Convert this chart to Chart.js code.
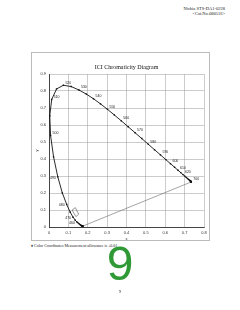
<!DOCTYPE html>
<html>
<head>
<meta charset="utf-8">
<script src="https://cdn.jsdelivr.net/npm/chart.js@4"></script>
<style>
    body { margin: 0; width: 240px; height: 310px; background: #fff; position: relative; overflow: hidden; }
    .hdr { position: absolute; right: 15px; top: 6px; font: 4.5px "Liberation Serif"; text-align: right; line-height: 5px; color: #222; }
    #box { position: absolute; left: 31px; top: 52px; width: 177px; height: 187px; border: 1px solid #bbb; }
    #box canvas { position: absolute; left: 0; top: 0; }
    .note { position: absolute; left: 31px; top: 243px; font: 4px "Liberation Serif"; color: #222; white-space: nowrap; }
    .big { position: absolute; left: 0; width: 240px; top: 238px; text-align: center; font: 48px "Liberation Sans"; color: #2f9a35; line-height: 52px; }
    .pg { position: absolute; left: 0; width: 240px; top: 289px; text-align: center; font: 4px "Liberation Serif"; color: #222; }
</style>
</head>
<body>
<div class="hdr">Nichia STS-DA1-0228<br>&lt;Cat.No.080516&gt;</div>
<div id="box"><canvas id="cie" width="178" height="188"></canvas></div>
<div class="note">&#9830; Color Coordinates Measurement allowance is &#177;0.01</div>
<div class="big">9</div>
<div class="pg">9</div>
<script>
// spectral locus, every 5 nm
const wavelengths = [380,385,390,395,400,405,410,415,420,425,430,435,440,445,450,455,460,465,470,475,
    480,485,490,495,500,505,510,515,520,525,530,535,540,545,550,555,560,565,570,575,
    580,585,590,595,600,605,610,615,620,625,630,635,640,645,650,655,660,665,670,675,
    680,685,690,695,700];
const cieX = [0.1741,0.1740,0.1738,0.1736,0.1733,0.1730,0.1726,0.1721,0.1714,0.1703,0.1689,0.1669,0.1644,0.1611,0.1566,0.1510,0.1440,0.1355,0.1241,0.1096,
    0.0913,0.0687,0.0454,0.0235,0.0082,0.0039,0.0139,0.0389,0.0743,0.1142,0.1547,0.1929,0.2296,0.2658,0.3016,0.3373,0.3731,0.4087,0.4441,0.4788,
    0.5125,0.5448,0.5752,0.6029,0.6270,0.6482,0.6658,0.6801,0.6915,0.7006,0.7079,0.7140,0.7190,0.7230,0.7260,0.7283,0.7300,0.7311,0.7320,0.7327,
    0.7334,0.7340,0.7344,0.7346,0.7347];
const cieY = [0.0050,0.0050,0.0049,0.0049,0.0048,0.0048,0.0048,0.0048,0.0051,0.0058,0.0069,0.0086,0.0109,0.0138,0.0177,0.0227,0.0297,0.0399,0.0578,0.0868,
    0.1327,0.2007,0.2950,0.4127,0.5384,0.6548,0.7502,0.8120,0.8338,0.8262,0.8059,0.7816,0.7543,0.7243,0.6923,0.6589,0.6245,0.5896,0.5547,0.5202,
    0.4866,0.4544,0.4242,0.3965,0.3725,0.3514,0.3340,0.3197,0.3083,0.2993,0.2920,0.2859,0.2809,0.2770,0.2740,0.2717,0.2700,0.2689,0.2680,0.2673,
    0.2666,0.2660,0.2656,0.2654,0.2653];

// wavelengths that get a label
const labelsLeft = [460, 470, 480, 490];
const labelsRight = [500, 510, 520, 530, 540, 550, 560, 570, 580, 590, 600, 610, 620, 700];

// ranking box near the blue corner
const boxX = [0.119, 0.136, 0.153, 0.139, 0.119];
const boxY = [0.100, 0.114, 0.075, 0.061, 0.100];

const xTicks = [0, 0.1, 0.2, 0.3, 0.4, 0.5, 0.6, 0.7, 0.8];
const yTicks = [0, 0.1, 0.2, 0.3, 0.4, 0.5, 0.6, 0.7, 0.8, 0.9];

const toPts = (xs, ys) => xs.map((x, i) => ({ x: x, y: ys[i] }));
const locus = toPts(cieX, cieY);
const purple = [locus[0], locus[locus.length - 1]];

// wavelength labels, placed through the scales
const nmLabels = {
    id: "nmLabels",
    afterDatasetsDraw(chart) {
        const ctx = chart.ctx;
        const sx = chart.scales.x, sy = chart.scales.y;
        ctx.save();
        ctx.font = "3.5px 'Liberation Sans'";
        ctx.fillStyle = "#222";
        ctx.textBaseline = "middle";
        labelsRight.forEach(nm => {
            const i = wavelengths.indexOf(nm);
            ctx.textAlign = "left";
            ctx.fillText(String(nm), sx.getPixelForValue(cieX[i]) + 2, sy.getPixelForValue(cieY[i]) - 2.5);
        });
        labelsLeft.forEach(nm => {
            const i = wavelengths.indexOf(nm);
            ctx.textAlign = "right";
            ctx.fillText(String(nm), sx.getPixelForValue(cieX[i]) - 2, sy.getPixelForValue(cieY[i]) + 1);
        });
        ctx.restore();
    }
};

const tickFont = { family: "Liberation Sans", size: 4 };

new Chart(document.getElementById("cie"), {
    type: "scatter",
    data: {
        datasets: [{
            data: locus,
            showLine: true,
            borderColor: "#111",
            borderWidth: 0.9,
            pointStyle: "rect",
            pointRadius: 1,
            pointBackgroundColor: "#111",
            pointBorderWidth: 0
        }, {
            data: purple,
            showLine: true,
            borderColor: "#666",
            borderWidth: 0.6,
            pointRadius: 0
        }, {
            data: toPts(boxX, boxY),
            showLine: true,
            borderColor: "#333",
            borderWidth: 0.5,
            pointRadius: 0
        }]
    },
    options: {
        responsive: false,
        animation: false,
        events: [],
        layout: { padding: { left: 2, right: 6, top: 11, bottom: 0 } },
        plugins: {
            legend: { display: false },
            tooltip: { enabled: false },
            title: {
                display: true,
                text: "ICI Chromaticity Diagram",
                fullSize: false,
                color: "#111",
                font: { family: "Liberation Serif", size: 6, weight: "normal", lineHeight: 1.2 },
                padding: { top: 0, bottom: 2.8 }
            }
        },
        scales: {
            x: {
                type: "linear", min: 0, max: 0.8,
                afterBuildTicks: s => { s.ticks = xTicks.map(v => ({ value: v })); },
                afterFit: s => { s.height = 14; },
                grid: { color: "#999", lineWidth: 0.5, drawTicks: false },
                border: { color: "#222", width: 0.8 },
                ticks: { font: tickFont, color: "#333", padding: 3, maxRotation: 0, callback: v => String(v) },
                title: { display: true, text: "x", font: tickFont, color: "#333", padding: 0 }
            },
            y: {
                type: "linear", min: 0, max: 0.9,
                afterBuildTicks: s => { s.ticks = yTicks.map(v => ({ value: v })); },
                afterFit: s => { s.width = 15; },
                grid: { color: "#999", lineWidth: 0.5, drawTicks: false },
                border: { color: "#222", width: 0.8 },
                ticks: { font: tickFont, color: "#333", padding: 3, callback: v => String(v) },
                title: { display: true, text: "y", font: tickFont, color: "#333", padding: 0 }
            }
        }
    },
    plugins: [nmLabels]
});
</script>
</body>
</html>
